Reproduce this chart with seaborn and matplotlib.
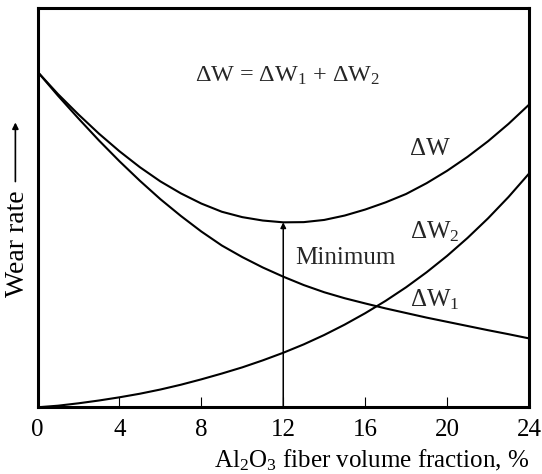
import matplotlib
matplotlib.use("Agg")
import matplotlib.pyplot as plt
import seaborn as sns
import pandas as pd

# ---- data ----
fraction = list(range(0, 25))  # Al2O3 fiber volume fraction, %
dW1 = [84.0, 78.0, 72.3, 66.8, 61.6, 56.7, 52.1, 47.9, 44.0, 40.5, 37.6, 35.0,
       32.7, 30.6, 28.8, 27.3, 26.0, 24.75, 23.6, 22.45, 21.4, 20.35, 19.3, 18.3, 17.25]
dW2 = [0.0, 0.4, 1.0, 1.7, 2.5, 3.4, 4.45, 5.65, 7.0, 8.45, 10.0, 11.75,
       13.65, 15.75, 18.1, 20.7, 23.55, 26.65, 30.05, 33.8, 37.9, 42.4, 47.3, 52.65, 58.5]
dW = [84.0, 78.4, 73.3, 68.5, 64.1, 60.1, 56.55, 53.55, 51.0, 48.95, 47.6, 46.75,
      46.3, 46.35, 46.9, 48.0, 49.5, 51.3, 53.4, 56.1, 59.2, 62.7, 66.6, 70.95, 75.75]
x_ticks = [0, 4, 8, 12, 16, 20, 24]
minimum_x = 12
minimum_y = 46.3

sns.set_theme(style="white")
plt.rcParams["font.family"] = ["Liberation Serif", "DejaVu Serif"]
plt.rcParams["mathtext.fontset"] = "custom"
plt.rcParams["mathtext.rm"] = "Liberation Serif"
plt.rcParams["mathtext.it"] = "Liberation Serif"
plt.rcParams["mathtext.default"] = "regular"

df = pd.DataFrame({
    "x": fraction * 3,
    "y": dW1 + dW2 + dW,
    "series": ["dW1"] * len(fraction) + ["dW2"] * len(fraction) + ["dW"] * len(fraction),
})

fig = plt.figure(figsize=(5.42, 4.74), dpi=100)
ax = fig.add_axes([37.5 / 542, (474 - 407.3) / 474, 491.5 / 542, 399.5 / 474])

sns.lineplot(data=df, x="x", y="y", units="series", estimator=None,
             color="black", linewidth=1.5, ax=ax, legend=False)

ax.set_xlim(0, 24)
ax.set_ylim(0, 100)
ax.set_xticks(x_ticks)
ax.set_yticks([])
ax.tick_params(axis="x", direction="in", length=7.5, width=0.8, pad=8.5,
               labelsize=18, colors="black", bottom=True)
for s in ax.spines.values():
    s.set_visible(True)
    s.set_color("black")
    s.set_linewidth(2.2)

# minimum arrow
ax.annotate("", xy=(minimum_x, minimum_y), xytext=(minimum_x, 0),
            arrowprops=dict(arrowstyle="-|>", color="black", lw=1.1,
                            mutation_scale=8, shrinkA=0, shrinkB=0))

fs = 18
ax.text(7.69, 81.4, r"ΔW = ΔW$_1$ + ΔW$_2$", fontsize=17.4, ha="left", va="baseline")
ax.text(18.2, 63.1, "ΔW", fontsize=fs, ha="left", va="baseline")
ax.text(18.2, 42.25, r"ΔW$_2$", fontsize=fs, ha="left", va="baseline")
ax.text(18.2, 25.3, r"ΔW$_1$", fontsize=fs, ha="left", va="baseline")
ax.text(12.57, 35.8, "Minimum", fontsize=fs, ha="left", va="baseline")

ax.set_xlabel(r"Al$_2$O$_3$ fiber volume fraction, %", fontsize=fs, loc="right",
              labelpad=5, color="black")
ax.set_ylabel("Wear rate", fontsize=20, color="black")
ax.yaxis.label.set_va("center")
ax.yaxis.label.set_ha("center")
ax.yaxis.set_label_coords(-0.041, 0.41)
ax.annotate("", xy=(-0.045, 0.713), xytext=(-0.045, 0.565), xycoords="axes fraction",
            textcoords="axes fraction", annotation_clip=False,
            arrowprops=dict(arrowstyle="-|>", color="black", lw=1.2,
                            mutation_scale=9, shrinkA=0, shrinkB=0))

fig.savefig("out.png", dpi=100)
